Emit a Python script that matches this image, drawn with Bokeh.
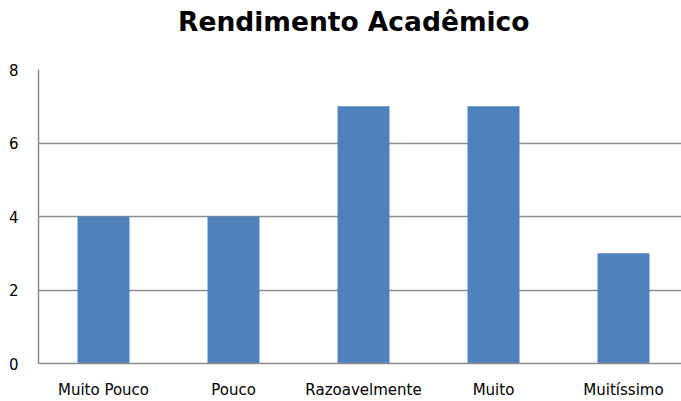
from bokeh.plotting import figure
from bokeh.models import Range1d, FixedTicker, ColumnDataSource, Div
from bokeh.layouts import column
from bokeh.embed import file_html
from bokeh.resources import INLINE

title_text = "Rendimento Acadêmico"
categories = ["Muito Pouco", "Pouco", "Razoavelmente", "Muito", "Muitíssimo"]
values = [4, 4, 7, 7, 3]
y_ticks = [0, 2, 4, 6, 8]

xs = list(range(len(categories)))
src = ColumnDataSource(dict(x=xs, top=values, cat=categories))

W = 681
TITLE_H = 44
H = 401 - TITLE_H
LEFT = 38
CAT_W = 130.0

head = Div(text=title_text, width=W, height=TITLE_H, margin=0,
           styles={"font-family": "DejaVu Sans", "font-weight": "bold",
                   "font-size": "26.5px", "line-height": "44px",
                   "text-align": "left", "text-indent": "178px",
                   "color": "#000000", "white-space": "nowrap",
                   "background-color": "white"})

p = figure(width=W, height=H, output_backend="svg", toolbar_location=None,
           x_range=Range1d(-0.5, -0.5 + (W - LEFT) / CAT_W), y_range=Range1d(0, 8),
           min_border_left=LEFT, min_border_right=0, min_border_bottom=30,
           min_border_top=25, margin=0)
p.title.text = ""
p.title.standoff = 0
p.title.text_font_size = "1px"

p.vbar(x="x", top="top", width=0.4, bottom=0, source=src,
       fill_color="#4F81BD", line_color=None)

p.outline_line_color = None
p.background_fill_color = "white"
p.border_fill_color = "white"

p.xgrid.grid_line_color = None
p.ygrid.ticker = FixedTicker(ticks=y_ticks)
p.ygrid.grid_line_color = "#8c8c8c"
p.ygrid.grid_line_width = 1.5

p.yaxis.ticker = FixedTicker(ticks=y_ticks)
p.yaxis.major_tick_line_color = None
p.yaxis.major_tick_out = 0
p.yaxis.major_tick_in = 0
p.yaxis.minor_tick_line_color = None
p.yaxis.axis_line_color = "#8c8c8c"
p.yaxis.axis_line_width = 1.5
p.yaxis.major_label_standoff = 20
p.yaxis.major_label_text_font = "DejaVu Sans"
p.yaxis.major_label_text_font_size = "15px"
p.yaxis.major_label_text_color = "#000000"

p.xaxis.ticker = FixedTicker(ticks=xs)
p.xaxis.major_label_overrides = {i: c for i, c in zip(xs, categories)}
p.xaxis.major_tick_line_color = None
p.xaxis.major_tick_out = 0
p.xaxis.major_tick_in = 0
p.xaxis.minor_tick_line_color = None
p.xaxis.axis_line_color = "#8c8c8c"
p.xaxis.axis_line_width = 1.5
p.xaxis.major_label_standoff = 17
p.xaxis.major_label_text_font = "DejaVu Sans"
p.xaxis.major_label_text_font_size = "15px"
p.xaxis.major_label_text_color = "#000000"

layout = column(head, p, spacing=0)
open("out.html", "w").write(file_html(layout, INLINE))
